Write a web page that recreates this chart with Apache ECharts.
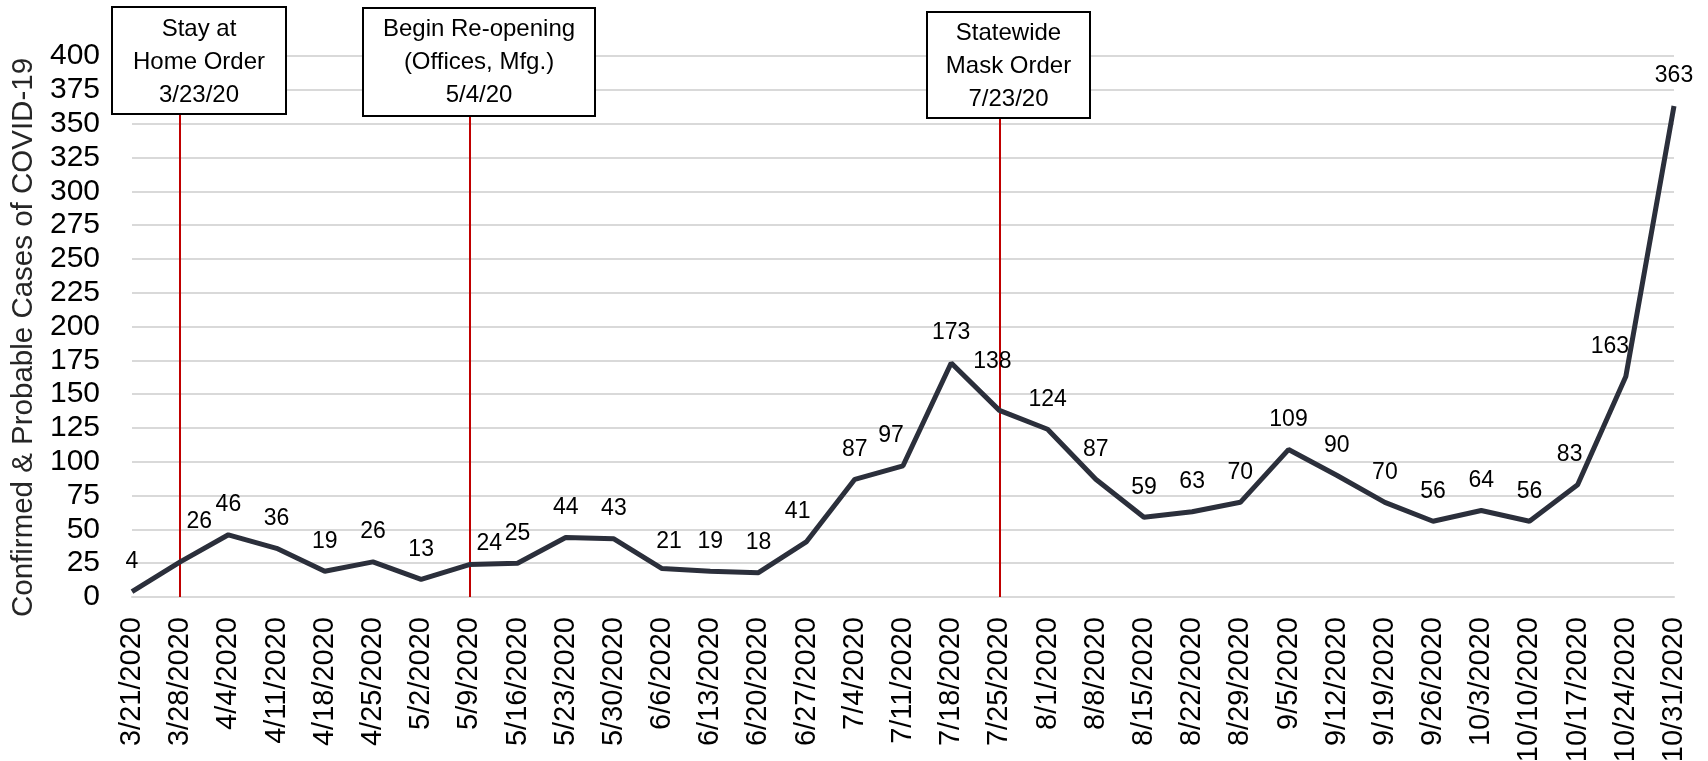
<!DOCTYPE html>
<html>
<head>
<meta charset="utf-8">
<script src="https://cdn.jsdelivr.net/npm/echarts@6/dist/echarts.min.js"></script>
<style>
  html, body { margin: 0; padding: 0; background: #ffffff; }
  #chart { width: 1708px; height: 761px; }
</style>
</head>
<body>
<div id="chart"></div>
<script>
// ---- data ----
const categories = [
  '3/21/2020','3/28/2020','4/4/2020','4/11/2020','4/18/2020','4/25/2020','5/2/2020',
  '5/9/2020','5/16/2020','5/23/2020','5/30/2020','6/6/2020','6/13/2020','6/20/2020',
  '6/27/2020','7/4/2020','7/11/2020','7/18/2020','7/25/2020','8/1/2020','8/8/2020',
  '8/15/2020','8/22/2020','8/29/2020','9/5/2020','9/12/2020','9/19/2020','9/26/2020',
  '10/3/2020','10/10/2020','10/17/2020','10/24/2020','10/31/2020'
];
const cases = [
  4, 26, 46, 36, 19, 26, 13, 24, 25, 44, 43, 21, 19, 18, 41, 87, 97,
  173, 138, 124, 87, 59, 63, 70, 109, 90, 70, 56, 64, 56, 83, 163, 363
];
const yTicks = { min: 0, max: 400, interval: 25 };
const eventDates = ['3/28/2020', '5/9/2020', '7/25/2020'];
const eventTexts = [
  ['Stay at', 'Home Order', '3/23/20'],
  ['Begin Re-opening', '(Offices, Mfg.)', '5/4/20'],
  ['Statewide', 'Mask Order', '7/23/20']
];
const yAxisTitle = 'Confirmed & Probable Cases of COVID-19';

// ---- styling (label nudges by point index) ----
const labelNudge = { 1: [19, -10], 7: [20, 9], 11: [7, 3], 14: [-9, 0], 16: [-12, 0], 18: [-7, -19], 30: [-8, 0], 31: [-16, 0] };
const boxes = [
  { x: 112, y: 7,  w: 174, h: 107, cy: 62 },
  { x: 363, y: 8,  w: 232, h: 108, cy: 62 },
  { x: 927, y: 12, w: 163, h: 106, cy: 66 }
];

const FONT = 'Liberation Sans, Arial, sans-serif';

const graphics = [];
boxes.forEach((b, i) => {
  graphics.push({
    type: 'rect', z: 100,
    shape: { x: b.x, y: b.y, width: b.w, height: b.h },
    style: { fill: '#ffffff', stroke: '#000000', lineWidth: 2 }
  });
  graphics.push({
    type: 'text', z: 101,
    x: b.x + b.w / 2, y: b.cy,
    style: {
      text: eventTexts[i].join('\n'),
      fill: '#000000',
      font: '24px ' + FONT,
      lineHeight: 33,
      align: 'center',
      verticalAlign: 'middle'
    }
  });
});

const chart = echarts.init(document.getElementById('chart'), null, { renderer: 'canvas' });
chart.setOption({
  backgroundColor: '#ffffff',
  animation: false,
  textStyle: { fontFamily: FONT },
  grid: { left: 132, right: 34, top: 56, bottom: 164, containLabel: false, outerBoundsMode: 'none' },
  xAxis: {
    type: 'category',
    data: categories,
    boundaryGap: false,
    axisLine: { show: true, lineStyle: { color: '#d9d9d9', width: 2 } },
    axisTick: { show: false },
    axisLabel: {
      interval: 0, rotate: 90, margin: 20,
      fontSize: 29, color: '#000000', fontFamily: FONT
    },
    splitLine: { show: false }
  },
  yAxis: {
    type: 'value',
    min: yTicks.min, max: yTicks.max, interval: yTicks.interval,
    name: yAxisTitle,
    nameLocation: 'middle',
    nameGap: 90,
    nameTextStyle: { fontSize: 29.5, color: '#262626', fontFamily: FONT, padding: [0, 22, 0, 0] },
    axisLine: { show: false },
    axisTick: { show: false },
    axisLabel: { margin: 32, fontSize: 30, color: '#000000', fontFamily: FONT },
    splitLine: { show: true, lineStyle: { color: '#d9d9d9', width: 2 } }
  },
  series: [{
    type: 'line',
    data: cases,
    symbol: 'circle',
    symbolSize: 1,
    showSymbol: true,
    lineStyle: { color: '#2b2f3b', width: 5 },
    itemStyle: { color: 'rgba(0,0,0,0)' },
    label: {
      show: true, position: 'top', distance: 18,
      fontSize: 23, lineHeight: 23, color: '#000000', fontFamily: FONT
    },
    labelLayout: function (params) {
      const n = labelNudge[params.dataIndex];
      const r = { hideOverlap: false };
      if (n) { r.dx = n[0]; r.dy = n[1]; }
      return r;
    },
    markLine: {
      silent: true,
      symbol: ['none', 'none'],
      label: { show: false },
      lineStyle: { color: '#c00000', width: 2, type: 'solid' },
      data: eventDates.map(d => ({ xAxis: d }))
    },
    z: 5
  }],
  graphic: graphics
});
</script>
</body>
</html>
